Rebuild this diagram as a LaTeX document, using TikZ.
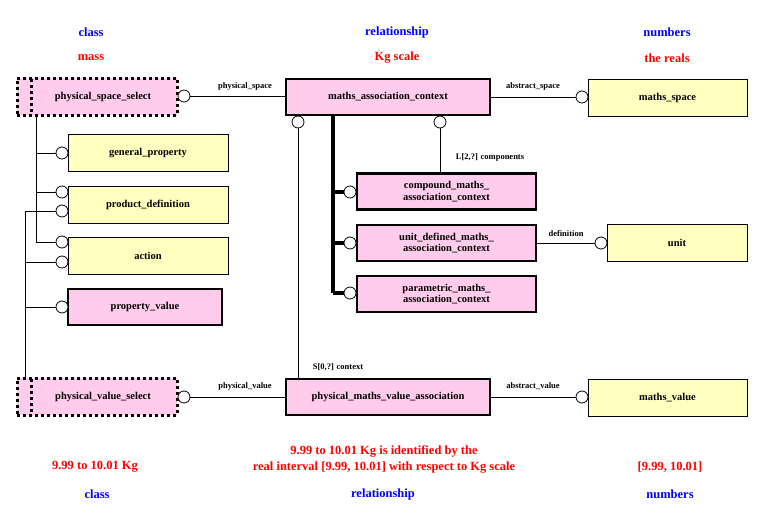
\documentclass[tikz,border=0pt]{standalone}
\usepackage{fontspec}
\setmainfont{Liberation Serif}
\begin{document}
\begin{tikzpicture}[x=1pt,y=-1pt,
  box/.style={draw,line width=0.8pt,fill=ylw,minimum width=#1,minimum height=37pt,inner sep=0pt,font=\fontsize{10.5}{11.5}\selectfont\bfseries,align=center},
  pbox/.style={draw,line width=2.6pt,fill=pnk,minimum width=#1,minimum height=36pt,inner sep=0pt,font=\fontsize{10.5}{11.5}\selectfont\bfseries,align=center},
  sbox/.style={draw,line width=3pt,dash pattern=on 3pt off 3pt,fill=pnk,minimum width=#1,minimum height=37pt,inner sep=0pt,font=\fontsize{10.5}{11.5}\selectfont\bfseries,align=center},
  oc/.style={circle,draw,fill=white,line width=0.8pt,minimum size=12pt,inner sep=0pt},
  ln/.style={line width=0.8pt},
  lab/.style={font=\fontsize{8.5}{9}\selectfont\bfseries,inner sep=0pt},
  hb/.style={font=\fontsize{12.5}{14}\selectfont\bfseries,text=blue},
  hr/.style={font=\fontsize{12.5}{16}\selectfont\bfseries,text=red}]
\definecolor{ylw}{RGB}{255,255,192}
\definecolor{pnk}{RGB}{255,204,236}
\definecolor{blue}{RGB}{0,0,255}
\definecolor{red}{RGB}{255,0,0}
\useasboundingbox (0,0) rectangle (766,517);
% headers
\node[hb] at (91,32) {class};
\node[hb] at (397,32) {relationship};
\node[hb] at (667,32) {numbers};
\node[hr] at (91,58) {mass};
\node[hr] at (397,58) {Kg scale};
\node[hr] at (667,58) {the reals};
\node[hr] at (95,467) {9.99 to 10.01 Kg};
\node[hr,align=center] at (384,459) {9.99 to 10.01 Kg is identified by the\\real interval [9.99, 10.01] with respect to Kg scale};
\node[hr] at (670,467) {[9.99, 10.01]};
\node[hb] at (97,494) {class};
\node[hb] at (383,494) {relationship};
\node[hb] at (670,494) {numbers};
% connector lines first (behind)
\coordinate (v1t) at (36,116); \coordinate (v1b) at (36,242);
\coordinate (v2t) at (25,211); \coordinate (v2b) at (25,377);
\draw[ln] (v1t) -- (v1b);
\draw[ln] (v2t) -- (v2b);
\coordinate (tkt) at (333,116); \coordinate (tkb) at (333,293);
\draw[line width=4pt] (tkt) -- (tkb);
% boxes
\node[sbox=160pt] (pss) at (97,96.5) {\hspace*{12pt}physical\_space\_select};
\draw[line width=3pt,dash pattern=on 3pt off 3pt] (31,79) -- (31,115);
\node[pbox=204pt] (mac) at (388,97) {maths\_association\_context};
\node[box=159pt] (ms) at (667.5,97.5) {maths\_space};
\node[box=160pt] (gp) at (148,153) {general\_property};
\node[box=160pt] (pd) at (148,204.5) {product\_definition};
\node[box=160pt] (ac) at (148,255.5) {action};
\node[pbox=154pt] (pv) at (145,307) {property\_value};
\node[pbox=179pt] (cm) at (446.5,191.5) {compound\_maths\_\\association\_context};
\node[pbox=179pt] (ud) at (446.5,243) {unit\_defined\_maths\_\\association\_context};
\node[pbox=179pt] (pm) at (446.5,294) {parametric\_maths\_\\association\_context};
\node[box=140pt] (un) at (677,243) {unit};
\node[sbox=160pt] (pvs) at (97,396.5) {\hspace*{12pt}physical\_value\_select};
\draw[line width=3pt,dash pattern=on 3pt off 3pt] (31,379) -- (31,415);
\node[pbox=204pt] (pmva) at (388,397) {physical\_maths\_value\_association};
\node[box=159pt] (mv) at (667.5,397.5) {maths\_value};
% circles and links
\node[oc] (c1) at (184,96) {};
\draw[ln] (c1) -- (mac.west |- c1);
\node[lab] at (245,86) {physical\_space};
\node[oc] (c2) at (582,97) {};
\draw[ln] (mac.east |- c2) -- (c2);
\node[lab] at (533,86) {abstract\_space};
\node[oc] (g1) at (62,153) {};
\node[oc] (p1) at (62,192) {};
\node[oc] (p2) at (62,211) {};
\node[oc] (a1) at (62,242) {};
\node[oc] (a2) at (62,262) {};
\node[oc] (q1) at (62,307) {};
\draw[ln] (g1) -- (v1t |- g1);
\draw[ln] (p1) -- (v1t |- p1);
\draw[ln] (a1) -- (v1b);
\draw[ln] (p2) -- (v2t);
\draw[ln] (a2) -- (v2t |- a2);
\draw[ln] (q1) -- (v2t |- q1);
\node[oc] (m1) at (298,122) {};
\draw[ln] (m1) -- (pmva.north -| m1);
\node[lab] at (338,367) {S[0,?] context};
\node[oc] (m2) at (440,122) {};
\draw[ln] (m2) -- (cm.north -| m2);
\node[lab] at (490,157) {L[2,?] components};
\node[oc] (k1) at (350,192) {};
\node[oc] (k2) at (350,243) {};
\node[oc] (k3) at (350,293) {};
\draw[line width=4pt] (k1) -- (tkt |- k1);
\draw[line width=4pt] (k2) -- (tkt |- k2);
\draw[line width=4pt] (k3) -- (tkb);
\node[oc] (d1) at (601,243) {};
\draw[ln] (ud.east |- d1) -- (d1);
\node[lab] at (566,234) {definition};
\node[oc] (c3) at (184,397) {};
\draw[ln] (c3) -- (pmva.west |- c3);
\node[lab] at (245,386) {physical\_value};
\node[oc] (c4) at (582,397) {};
\draw[ln] (pmva.east |- c4) -- (c4);
\node[lab] at (533,386) {abstract\_value};
\end{tikzpicture}
\end{document}
